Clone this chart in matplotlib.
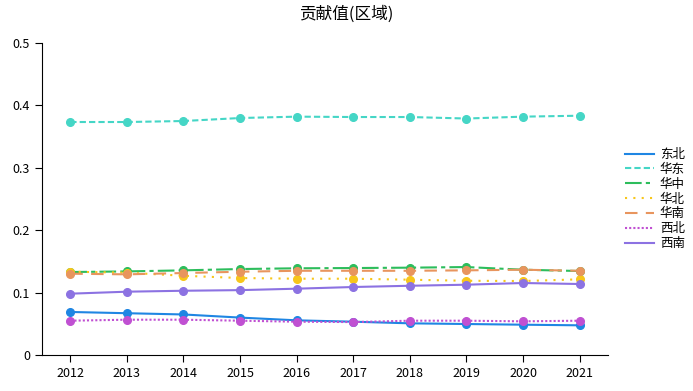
import matplotlib
matplotlib.use('Agg')
import matplotlib.pyplot as plt
from matplotlib import ticker
from matplotlib.lines import Line2D

plt.rcParams['font.family'] = ['Noto Sans CJK SC', 'DejaVu Sans']

years = ['2012', '2013', '2014', '2015', '2016', '2017', '2018', '2019', '2020', '2021']

dongbei = [0.069, 0.067, 0.065, 0.060, 0.0556, 0.0534, 0.0508, 0.0497, 0.0486, 0.0476]
huadong = [0.3734, 0.3734, 0.375, 0.3798, 0.382, 0.3814, 0.3814, 0.379, 0.382, 0.3835]
huazhong = [0.133, 0.134, 0.1357, 0.1378, 0.139, 0.1394, 0.140, 0.141, 0.1367, 0.1346]
huabei = [0.1335, 0.132, 0.127, 0.1234, 0.1223, 0.1223, 0.1207, 0.119, 0.1186, 0.1213]
huanan = [0.1303, 0.1293, 0.1314, 0.1335, 0.135, 0.135, 0.135, 0.1357, 0.1367, 0.135]
xibei = [0.055, 0.0566, 0.0566, 0.055, 0.0534, 0.0528, 0.055, 0.055, 0.054, 0.055]
xinan = [0.0983, 0.1015, 0.103, 0.104, 0.1063, 0.109, 0.111, 0.1127, 0.1154, 0.1138]

series = [
    ('东北', dongbei, '#1f86e3', '-'),
    ('华东', huadong, '#45d6c6', (0, (3, 1.5))),
    ('华中', huazhong, '#2dbd5c', (0, (8, 2, 2, 2))),
    ('华北', huabei, '#f7c61a', (0, (1, 3))),
    ('华南', huanan, '#e8955e', (0, (6, 4))),
    ('西北', xibei, '#c050d2', (0, (1, 1))),
    ('西南', xinan, '#8c72e2', '-'),
]

fig = plt.figure(figsize=(6.93, 3.91), dpi=100)
ax = fig.add_axes([0.0606, 0.092, 0.8167, 0.798])

x = list(range(len(years)))
handles = []
for name, vals, color, ls in series:
    ax.plot(x, vals, color=color, linestyle=ls, linewidth=1.5,
            marker='o', markersize=5.5)
    handles.append(Line2D([], [], color=color, linestyle=ls, linewidth=1.5, label=name))

ax.set_xlim(-0.5, len(years) - 0.5)
ax.set_ylim(0, 0.5)
ax.set_xticks(x)
ax.set_xticklabels(years)
ax.set_yticks([0, 0.1, 0.2, 0.3, 0.4, 0.5])
ax.yaxis.set_major_formatter(ticker.FuncFormatter(lambda v, pos: '0' if v == 0 else '{:.1f}'.format(v)))
ax.tick_params(labelsize=9, length=5, color='black')
ax.spines['top'].set_visible(False)
ax.spines['right'].set_visible(False)

fig.suptitle('贡献值(区域)', fontsize=12, y=0.985)
ax.legend(handles=handles, loc='center left', bbox_to_anchor=(1.01, 0.5), frameon=False,
          fontsize=9, handlelength=2.3, labelspacing=0.15, handletextpad=0.5)

fig.savefig('out.png', dpi=100)
